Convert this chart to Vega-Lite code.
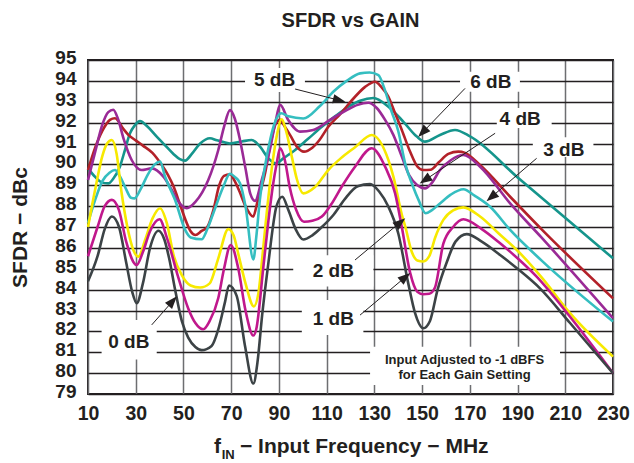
{
  "$schema": "https://vega.github.io/schema/vega-lite/v6.json",
  "width": 525,
  "height": 334,
  "autosize": {"type": "none"},
  "padding": {"left": 88, "top": 60, "right": 21, "bottom": 69},
  "background": "white",
  "title": {"text": "SFDR vs GAIN", "fontSize": 20, "font": "Liberation Sans", "fontWeight": "bold", "color": "#231f20", "anchor": "middle", "offset": 18},
  "config": {
    "view": {"stroke": "#231f20", "strokeWidth": 2},
    "font": "Liberation Sans",
    "axis": {"ticks": false, "tickSize": 0, "domain": false, "labelOverlap": false, "labelSeparation": 0, "labelBound": false, "labelFlush": false, "labelFont": "Liberation Sans", "labelFontWeight": "bold", "labelFontSize": 19.5, "labelColor": "#231f20", "titleFont": "Liberation Sans", "titleFontWeight": "bold", "titleFontSize": 21, "titleColor": "#231f20"},
    "axisX": {"gridColor": "#6d6e71", "gridWidth": 1.5, "gridOpacity": 1, "labelPadding": 10},
    "axisY": {"gridColor": "#231f20", "gridWidth": 1.3, "gridOpacity": 1, "labelFontSize": 19, "labelPadding": 12, "labelOffset": -2.5, "labelOverlap": false, "titleX": -68, "titleY": 167, "titleAngle": -90, "titleBaseline": "middle", "titleAlign": "center"}
  },
  "datasets": {
    "grid": [
      {"v": 79}, {"v": 80}, {"v": 81}, {"v": 82}, {"v": 83}, {"v": 84}, {"v": 85}, {"v": 86}, {"v": 87}, {"v": 88}, {"v": 89}, {"v": 90}, {"v": 91}, {"v": 92}, {"v": 93}, {"v": 94}, {"v": 95}
    ],
    "boxes": [
      {"f": 75.8, "f2": 100.9, "v": 93.47, "v2": 94.62},
      {"f": 165.9, "f2": 191.0, "v": 93.48, "v2": 94.44},
      {"f": 181.3, "f2": 204.3, "v": 91.74, "v2": 92.7},
      {"f": 196.4, "f2": 221.8, "v": 90.35, "v2": 91.3},
      {"f": 96.0, "f2": 129.6, "v": 84.15, "v2": 85.65},
      {"f": 99.6, "f2": 125.4, "v": 81.83, "v2": 83.5},
      {"f": 15.7, "f2": 38.8, "v": 80.65, "v2": 82.55},
      {"f": 128.2, "f2": 207.8, "v": 79.43, "v2": 81.26}
    ],
    "labels": [
      {"f": 88.2, "v": 94.03, "t": "5 dB"},
      {"f": 178.8, "v": 93.96, "t": "6 dB"},
      {"f": 191.1, "v": 92.16, "t": "4 dB"},
      {"f": 209.4, "v": 90.7, "t": "3 dB"},
      {"f": 112.8, "v": 84.9, "t": "2 dB"},
      {"f": 112.8, "v": 82.59, "t": "1 dB"},
      {"f": 27.1, "v": 81.5, "t": "0 dB"}
    ],
    "note": [
      {"f": 167.8, "v": 80.64, "t": "Input Adjusted to -1 dBFS"},
      {"f": 167.8, "v": 79.9, "t": "for Each Gain Setting"}
    ],
    "arrows": [
      {"f": 96.8, "v": 93.61, "f2": 115.3, "v2": 93.07, "ang": 104},
      {"f": 168.0, "v": 93.64, "f2": 150.2, "v2": 91.53, "ang": 224},
      {"f": 180.6, "v": 91.49, "f2": 151.2, "v2": 89.25, "ang": 236},
      {"f": 198.0, "v": 90.29, "f2": 179.0, "v2": 88.43, "ang": 229.5},
      {"f": 121.9, "v": 85.42, "f2": 140.9, "v2": 87.23, "ang": 50},
      {"f": 124.0, "v": 82.78, "f2": 143.0, "v2": 84.6, "ang": 50},
      {"f": 36.7, "v": 82.31, "f2": 45.5, "v2": 83.45, "ang": 41.5}
    ],
    "heads": [
      {"f": 115.3, "v": 93.07, "ang": 104},
      {"f": 150.2, "v": 91.53, "ang": 224},
      {"f": 151.2, "v": 89.25, "ang": 236},
      {"f": 179.0, "v": 88.43, "ang": 229.5},
      {"f": 140.9, "v": 87.23, "ang": 50},
      {"f": 143.0, "v": 84.6, "ang": 50},
      {"f": 45.5, "v": 83.45, "ang": 41.5}
    ],
    "xtitle": [
      {"f": 62.8, "v": 76.15, "t": "f", "s": 21},
      {"f": 66.0, "v": 75.9, "t": "IN", "s": 13},
      {"f": 73.7, "v": 76.15, "t": "− Input Frequency − MHz", "s": 21}
    ],
    "curves": [
      {"gain": "6 dB", "f": 10, "v": 89.81}, {"gain": "6 dB", "f": 13, "v": 89.4}, {"gain": "6 dB", "f": 15.5, "v": 89.15}, {"gain": "6 dB", "f": 18.5, "v": 89.09}, {"gain": "6 dB", "f": 20.5, "v": 89.3}, {"gain": "6 dB", "f": 23.4, "v": 89.9}, {"gain": "6 dB", "f": 25.5, "v": 90.7}, {"gain": "6 dB", "f": 27.6, "v": 91.49}, {"gain": "6 dB", "f": 29.5, "v": 91.85}, {"gain": "6 dB", "f": 31.8, "v": 92.07}, {"gain": "6 dB", "f": 35, "v": 91.8}, {"gain": "6 dB", "f": 38.8, "v": 91.33}, {"gain": "6 dB", "f": 42, "v": 90.95}, {"gain": "6 dB", "f": 45.8, "v": 90.5}, {"gain": "6 dB", "f": 48.5, "v": 90.25}, {"gain": "6 dB", "f": 50.7, "v": 90.18}, {"gain": "6 dB", "f": 53.5, "v": 90.5}, {"gain": "6 dB", "f": 57, "v": 91.0}, {"gain": "6 dB", "f": 61.1, "v": 91.25}, {"gain": "6 dB", "f": 64, "v": 91.15}, {"gain": "6 dB", "f": 66, "v": 91.09}, {"gain": "6 dB", "f": 69.5, "v": 91.0}, {"gain": "6 dB", "f": 74.5, "v": 91.1}, {"gain": "6 dB", "f": 78.6, "v": 91.17}, {"gain": "6 dB", "f": 82.1, "v": 90.85}, {"gain": "6 dB", "f": 85.5, "v": 90.3}, {"gain": "6 dB", "f": 88.7, "v": 90.05}, {"gain": "6 dB", "f": 92, "v": 90.3}, {"gain": "6 dB", "f": 96.8, "v": 90.69}, {"gain": "6 dB", "f": 102, "v": 91.2}, {"gain": "6 dB", "f": 108, "v": 91.8}, {"gain": "6 dB", "f": 113.5, "v": 92.3}, {"gain": "6 dB", "f": 119.1, "v": 92.76}, {"gain": "6 dB", "f": 124, "v": 93.05}, {"gain": "6 dB", "f": 129.6, "v": 93.18}, {"gain": "6 dB", "f": 135.9, "v": 92.76}, {"gain": "6 dB", "f": 142.2, "v": 92.04}, {"gain": "6 dB", "f": 147.8, "v": 91.33}, {"gain": "6 dB", "f": 151.2, "v": 91.09}, {"gain": "6 dB", "f": 157.5, "v": 91.41}, {"gain": "6 dB", "f": 163.8, "v": 91.65}, {"gain": "6 dB", "f": 170.1, "v": 91.34}, {"gain": "6 dB", "f": 189.7, "v": 89.41}, {"gain": "6 dB", "f": 230, "v": 85.5},

      {"gain": "5 dB", "f": 10, "v": 89.73}, {"gain": "5 dB", "f": 13, "v": 90.8}, {"gain": "5 dB", "f": 16, "v": 91.6}, {"gain": "5 dB", "f": 19.2, "v": 92.13}, {"gain": "5 dB", "f": 21.3, "v": 92.21}, {"gain": "5 dB", "f": 24.8, "v": 91.7}, {"gain": "5 dB", "f": 27, "v": 91.4}, {"gain": "5 dB", "f": 30, "v": 91.15}, {"gain": "5 dB", "f": 33, "v": 90.9}, {"gain": "5 dB", "f": 37, "v": 90.55}, {"gain": "5 dB", "f": 40.9, "v": 89.97}, {"gain": "5 dB", "f": 43.5, "v": 89.5}, {"gain": "5 dB", "f": 46, "v": 88.9}, {"gain": "5 dB", "f": 48.5, "v": 88.1}, {"gain": "5 dB", "f": 51, "v": 87.3}, {"gain": "5 dB", "f": 53, "v": 86.8}, {"gain": "5 dB", "f": 55, "v": 86.62}, {"gain": "5 dB", "f": 57.5, "v": 86.8}, {"gain": "5 dB", "f": 60, "v": 87.0}, {"gain": "5 dB", "f": 62.5, "v": 87.8}, {"gain": "5 dB", "f": 65, "v": 89.0}, {"gain": "5 dB", "f": 67, "v": 89.45}, {"gain": "5 dB", "f": 69.5, "v": 89.53}, {"gain": "5 dB", "f": 71.5, "v": 89.2}, {"gain": "5 dB", "f": 73.5, "v": 88.7}, {"gain": "5 dB", "f": 76, "v": 88.0}, {"gain": "5 dB", "f": 79.2, "v": 87.5}, {"gain": "5 dB", "f": 81, "v": 88.2}, {"gain": "5 dB", "f": 84.2, "v": 89.57}, {"gain": "5 dB", "f": 86.5, "v": 91.0}, {"gain": "5 dB", "f": 88.5, "v": 91.9}, {"gain": "5 dB", "f": 90.5, "v": 92.13}, {"gain": "5 dB", "f": 92.5, "v": 91.8}, {"gain": "5 dB", "f": 94.7, "v": 91.4}, {"gain": "5 dB", "f": 97.5, "v": 90.85}, {"gain": "5 dB", "f": 100.5, "v": 90.61}, {"gain": "5 dB", "f": 104, "v": 90.8}, {"gain": "5 dB", "f": 107, "v": 91.17}, {"gain": "5 dB", "f": 110.7, "v": 91.8}, {"gain": "5 dB", "f": 115.6, "v": 92.4}, {"gain": "5 dB", "f": 121.9, "v": 93.24}, {"gain": "5 dB", "f": 126, "v": 93.7}, {"gain": "5 dB", "f": 130.3, "v": 93.96}, {"gain": "5 dB", "f": 133, "v": 93.7}, {"gain": "5 dB", "f": 135.9, "v": 93.24}, {"gain": "5 dB", "f": 138.5, "v": 92.5}, {"gain": "5 dB", "f": 141.5, "v": 91.65}, {"gain": "5 dB", "f": 145, "v": 90.6}, {"gain": "5 dB", "f": 148, "v": 89.9}, {"gain": "5 dB", "f": 150.5, "v": 89.73}, {"gain": "5 dB", "f": 153.5, "v": 89.74}, {"gain": "5 dB", "f": 157, "v": 90.1}, {"gain": "5 dB", "f": 161, "v": 90.5}, {"gain": "5 dB", "f": 165.2, "v": 90.61}, {"gain": "5 dB", "f": 168, "v": 90.55}, {"gain": "5 dB", "f": 174.3, "v": 89.97}, {"gain": "5 dB", "f": 186.9, "v": 88.45}, {"gain": "5 dB", "f": 200, "v": 86.9}, {"gain": "5 dB", "f": 230, "v": 83.58},

      {"gain": "4 dB", "f": 10, "v": 89.25}, {"gain": "4 dB", "f": 13, "v": 90.6}, {"gain": "4 dB", "f": 16, "v": 91.9}, {"gain": "4 dB", "f": 18.5, "v": 92.5}, {"gain": "4 dB", "f": 20.6, "v": 92.62}, {"gain": "4 dB", "f": 22.5, "v": 92.2}, {"gain": "4 dB", "f": 25, "v": 91.2}, {"gain": "4 dB", "f": 28.3, "v": 90.21}, {"gain": "4 dB", "f": 32.5, "v": 89.73}, {"gain": "4 dB", "f": 36.7, "v": 89.81}, {"gain": "4 dB", "f": 41.6, "v": 89.41}, {"gain": "4 dB", "f": 45, "v": 88.8}, {"gain": "4 dB", "f": 48, "v": 88.2}, {"gain": "4 dB", "f": 51.4, "v": 87.9}, {"gain": "4 dB", "f": 55, "v": 88.2}, {"gain": "4 dB", "f": 60.4, "v": 89.25}, {"gain": "4 dB", "f": 64.6, "v": 90.69}, {"gain": "4 dB", "f": 67, "v": 91.8}, {"gain": "4 dB", "f": 69.5, "v": 92.6}, {"gain": "4 dB", "f": 71.5, "v": 92.2}, {"gain": "4 dB", "f": 73.7, "v": 91.17}, {"gain": "4 dB", "f": 76, "v": 89.8}, {"gain": "4 dB", "f": 78, "v": 88.6}, {"gain": "4 dB", "f": 80, "v": 88.25}, {"gain": "4 dB", "f": 82.8, "v": 89.25}, {"gain": "4 dB", "f": 86.2, "v": 90.7}, {"gain": "4 dB", "f": 88.5, "v": 92.0}, {"gain": "4 dB", "f": 90.5, "v": 92.85}, {"gain": "4 dB", "f": 93.9, "v": 92.13}, {"gain": "4 dB", "f": 98.8, "v": 91.57}, {"gain": "4 dB", "f": 104.4, "v": 91.65}, {"gain": "4 dB", "f": 111.4, "v": 92.13}, {"gain": "4 dB", "f": 118.4, "v": 92.6}, {"gain": "4 dB", "f": 123, "v": 92.85}, {"gain": "4 dB", "f": 127.5, "v": 92.95}, {"gain": "4 dB", "f": 131, "v": 92.7}, {"gain": "4 dB", "f": 134.5, "v": 92.13}, {"gain": "4 dB", "f": 138, "v": 91.4}, {"gain": "4 dB", "f": 141.5, "v": 90.37}, {"gain": "4 dB", "f": 144.5, "v": 89.5}, {"gain": "4 dB", "f": 148, "v": 89.0}, {"gain": "4 dB", "f": 151.2, "v": 88.85}, {"gain": "4 dB", "f": 154, "v": 89.1}, {"gain": "4 dB", "f": 157.5, "v": 89.73}, {"gain": "4 dB", "f": 162, "v": 90.2}, {"gain": "4 dB", "f": 167.3, "v": 90.45}, {"gain": "4 dB", "f": 174.3, "v": 89.89}, {"gain": "4 dB", "f": 186.9, "v": 88.13}, {"gain": "4 dB", "f": 200, "v": 86.5}, {"gain": "4 dB", "f": 230, "v": 82.63},

      {"gain": "3 dB", "f": 10, "v": 87.2}, {"gain": "3 dB", "f": 13, "v": 88.3}, {"gain": "3 dB", "f": 16, "v": 89.2}, {"gain": "3 dB", "f": 19, "v": 89.6}, {"gain": "3 dB", "f": 21.3, "v": 89.73}, {"gain": "3 dB", "f": 23.5, "v": 89.4}, {"gain": "3 dB", "f": 26, "v": 88.8}, {"gain": "3 dB", "f": 28, "v": 88.4}, {"gain": "3 dB", "f": 29.5, "v": 88.37}, {"gain": "3 dB", "f": 32, "v": 88.8}, {"gain": "3 dB", "f": 35, "v": 89.5}, {"gain": "3 dB", "f": 38, "v": 90.0}, {"gain": "3 dB", "f": 40.2, "v": 90.13}, {"gain": "3 dB", "f": 42.3, "v": 89.41}, {"gain": "3 dB", "f": 46.5, "v": 88.29}, {"gain": "3 dB", "f": 50.7, "v": 86.86}, {"gain": "3 dB", "f": 53, "v": 86.5}, {"gain": "3 dB", "f": 57.6, "v": 86.41}, {"gain": "3 dB", "f": 60, "v": 86.9}, {"gain": "3 dB", "f": 62.5, "v": 87.66}, {"gain": "3 dB", "f": 66.7, "v": 88.93}, {"gain": "3 dB", "f": 69.5, "v": 89.55}, {"gain": "3 dB", "f": 71.5, "v": 89.4}, {"gain": "3 dB", "f": 73.7, "v": 89.1}, {"gain": "3 dB", "f": 76, "v": 88.0}, {"gain": "3 dB", "f": 79.3, "v": 85.45}, {"gain": "3 dB", "f": 80.5, "v": 86.5}, {"gain": "3 dB", "f": 82, "v": 88.29}, {"gain": "3 dB", "f": 84, "v": 89.8}, {"gain": "3 dB", "f": 86, "v": 91.0}, {"gain": "3 dB", "f": 88, "v": 91.9}, {"gain": "3 dB", "f": 90.9, "v": 92.45}, {"gain": "3 dB", "f": 94, "v": 92.3}, {"gain": "3 dB", "f": 100.2, "v": 92.2}, {"gain": "3 dB", "f": 107.2, "v": 92.8}, {"gain": "3 dB", "f": 113, "v": 93.5}, {"gain": "3 dB", "f": 118.4, "v": 94.0}, {"gain": "3 dB", "f": 124, "v": 94.36}, {"gain": "3 dB", "f": 128, "v": 94.4}, {"gain": "3 dB", "f": 131.7, "v": 94.28}, {"gain": "3 dB", "f": 134, "v": 93.7}, {"gain": "3 dB", "f": 137, "v": 92.6}, {"gain": "3 dB", "f": 140, "v": 91.6}, {"gain": "3 dB", "f": 143, "v": 90.0}, {"gain": "3 dB", "f": 146, "v": 89.0}, {"gain": "3 dB", "f": 148.5, "v": 88.3}, {"gain": "3 dB", "f": 151.5, "v": 87.66}, {"gain": "3 dB", "f": 154, "v": 87.8}, {"gain": "3 dB", "f": 157.5, "v": 88.13}, {"gain": "3 dB", "f": 162, "v": 88.55}, {"gain": "3 dB", "f": 167.3, "v": 88.81}, {"gain": "3 dB", "f": 172, "v": 88.5}, {"gain": "3 dB", "f": 178.5, "v": 87.97}, {"gain": "3 dB", "f": 186.9, "v": 86.86}, {"gain": "3 dB", "f": 200, "v": 85.4}, {"gain": "3 dB", "f": 230, "v": 82.47},

      {"gain": "2 dB", "f": 10, "v": 87.0}, {"gain": "2 dB", "f": 13, "v": 88.8}, {"gain": "2 dB", "f": 16, "v": 90.4}, {"gain": "2 dB", "f": 18, "v": 91.0}, {"gain": "2 dB", "f": 20, "v": 91.17}, {"gain": "2 dB", "f": 22, "v": 90.5}, {"gain": "2 dB", "f": 24, "v": 88.7}, {"gain": "2 dB", "f": 26.5, "v": 87.0}, {"gain": "2 dB", "f": 29, "v": 85.9}, {"gain": "2 dB", "f": 31.1, "v": 85.58}, {"gain": "2 dB", "f": 34, "v": 86.4}, {"gain": "2 dB", "f": 37, "v": 87.4}, {"gain": "2 dB", "f": 40.2, "v": 87.9}, {"gain": "2 dB", "f": 43, "v": 87.2}, {"gain": "2 dB", "f": 46, "v": 85.6}, {"gain": "2 dB", "f": 49.3, "v": 84.7}, {"gain": "2 dB", "f": 53, "v": 84.2}, {"gain": "2 dB", "f": 57, "v": 84.1}, {"gain": "2 dB", "f": 61, "v": 84.3}, {"gain": "2 dB", "f": 64.6, "v": 85.5}, {"gain": "2 dB", "f": 68.8, "v": 86.9}, {"gain": "2 dB", "f": 71, "v": 86.6}, {"gain": "2 dB", "f": 73, "v": 85.7}, {"gain": "2 dB", "f": 76, "v": 84.3}, {"gain": "2 dB", "f": 79.5, "v": 83.2}, {"gain": "2 dB", "f": 81.4, "v": 83.82}, {"gain": "2 dB", "f": 83, "v": 85.5}, {"gain": "2 dB", "f": 85, "v": 87.8}, {"gain": "2 dB", "f": 87, "v": 89.8}, {"gain": "2 dB", "f": 89, "v": 91.3}, {"gain": "2 dB", "f": 91.2, "v": 92.16}, {"gain": "2 dB", "f": 93, "v": 91.6}, {"gain": "2 dB", "f": 95.4, "v": 90.37}, {"gain": "2 dB", "f": 97.5, "v": 89.3}, {"gain": "2 dB", "f": 100.2, "v": 88.61}, {"gain": "2 dB", "f": 105, "v": 88.9}, {"gain": "2 dB", "f": 110.7, "v": 89.73}, {"gain": "2 dB", "f": 116, "v": 90.3}, {"gain": "2 dB", "f": 121.9, "v": 90.82}, {"gain": "2 dB", "f": 128.9, "v": 91.41}, {"gain": "2 dB", "f": 135.9, "v": 90.2}, {"gain": "2 dB", "f": 138, "v": 89.4}, {"gain": "2 dB", "f": 141.5, "v": 87.6}, {"gain": "2 dB", "f": 143, "v": 87.0}, {"gain": "2 dB", "f": 145.7, "v": 85.8}, {"gain": "2 dB", "f": 148, "v": 85.4}, {"gain": "2 dB", "f": 150.5, "v": 85.35}, {"gain": "2 dB", "f": 153, "v": 85.6}, {"gain": "2 dB", "f": 155.5, "v": 86.5}, {"gain": "2 dB", "f": 158.9, "v": 87.34}, {"gain": "2 dB", "f": 163, "v": 87.8}, {"gain": "2 dB", "f": 167.3, "v": 87.94}, {"gain": "2 dB", "f": 174.3, "v": 87.5}, {"gain": "2 dB", "f": 182, "v": 86.7}, {"gain": "2 dB", "f": 189.7, "v": 85.9}, {"gain": "2 dB", "f": 200, "v": 84.6}, {"gain": "2 dB", "f": 212, "v": 82.87}, {"gain": "2 dB", "f": 230, "v": 80.79},

      {"gain": "1 dB", "f": 10, "v": 85.6}, {"gain": "1 dB", "f": 14, "v": 87.0}, {"gain": "1 dB", "f": 17, "v": 88.0}, {"gain": "1 dB", "f": 20, "v": 88.3}, {"gain": "1 dB", "f": 23, "v": 87.8}, {"gain": "1 dB", "f": 26, "v": 86.3}, {"gain": "1 dB", "f": 30.4, "v": 85.18}, {"gain": "1 dB", "f": 33, "v": 85.8}, {"gain": "1 dB", "f": 36, "v": 86.8}, {"gain": "1 dB", "f": 40, "v": 87.37}, {"gain": "1 dB", "f": 43, "v": 86.5}, {"gain": "1 dB", "f": 47.8, "v": 84.6}, {"gain": "1 dB", "f": 52, "v": 83.1}, {"gain": "1 dB", "f": 55, "v": 82.4}, {"gain": "1 dB", "f": 58.3, "v": 82.1}, {"gain": "1 dB", "f": 61, "v": 82.5}, {"gain": "1 dB", "f": 64.6, "v": 83.6}, {"gain": "1 dB", "f": 67, "v": 85.0}, {"gain": "1 dB", "f": 69.8, "v": 86.14}, {"gain": "1 dB", "f": 73, "v": 85.0}, {"gain": "1 dB", "f": 76, "v": 83.0}, {"gain": "1 dB", "f": 79.3, "v": 81.8}, {"gain": "1 dB", "f": 80.5, "v": 82.1}, {"gain": "1 dB", "f": 83.5, "v": 85.1}, {"gain": "1 dB", "f": 85.6, "v": 87.3}, {"gain": "1 dB", "f": 87.5, "v": 89.0}, {"gain": "1 dB", "f": 89, "v": 90.0}, {"gain": "1 dB", "f": 90.5, "v": 90.77}, {"gain": "1 dB", "f": 92.5, "v": 90.2}, {"gain": "1 dB", "f": 94.5, "v": 88.93}, {"gain": "1 dB", "f": 97.3, "v": 87.8}, {"gain": "1 dB", "f": 100.5, "v": 87.25}, {"gain": "1 dB", "f": 104, "v": 87.3}, {"gain": "1 dB", "f": 108, "v": 87.5}, {"gain": "1 dB", "f": 112, "v": 88.1}, {"gain": "1 dB", "f": 116.3, "v": 88.93}, {"gain": "1 dB", "f": 121.9, "v": 89.89}, {"gain": "1 dB", "f": 128.9, "v": 90.77}, {"gain": "1 dB", "f": 134.5, "v": 89.89}, {"gain": "1 dB", "f": 138.7, "v": 88.61}, {"gain": "1 dB", "f": 141.5, "v": 87.0}, {"gain": "1 dB", "f": 145, "v": 84.8}, {"gain": "1 dB", "f": 148, "v": 83.9}, {"gain": "1 dB", "f": 150.5, "v": 83.78}, {"gain": "1 dB", "f": 153, "v": 83.8}, {"gain": "1 dB", "f": 155.4, "v": 84.1}, {"gain": "1 dB", "f": 158.9, "v": 86.2}, {"gain": "1 dB", "f": 163, "v": 87.0}, {"gain": "1 dB", "f": 167.3, "v": 87.37}, {"gain": "1 dB", "f": 175, "v": 86.9}, {"gain": "1 dB", "f": 182.7, "v": 86.22}, {"gain": "1 dB", "f": 190, "v": 85.5}, {"gain": "1 dB", "f": 198, "v": 84.62}, {"gain": "1 dB", "f": 212, "v": 82.7}, {"gain": "1 dB", "f": 230, "v": 80.0},

      {"gain": "0 dB", "f": 10, "v": 84.4}, {"gain": "0 dB", "f": 14, "v": 85.6}, {"gain": "0 dB", "f": 17, "v": 86.9}, {"gain": "0 dB", "f": 20, "v": 87.5}, {"gain": "0 dB", "f": 23, "v": 87.0}, {"gain": "0 dB", "f": 26, "v": 85.3}, {"gain": "0 dB", "f": 28.5, "v": 83.9}, {"gain": "0 dB", "f": 30.4, "v": 83.35}, {"gain": "0 dB", "f": 33, "v": 84.3}, {"gain": "0 dB", "f": 36, "v": 86.0}, {"gain": "0 dB", "f": 39.5, "v": 86.82}, {"gain": "0 dB", "f": 42, "v": 86.4}, {"gain": "0 dB", "f": 44, "v": 85.5}, {"gain": "0 dB", "f": 46.5, "v": 84.0}, {"gain": "0 dB", "f": 49.3, "v": 82.5}, {"gain": "0 dB", "f": 52, "v": 81.7}, {"gain": "0 dB", "f": 55, "v": 81.25}, {"gain": "0 dB", "f": 57.6, "v": 81.1}, {"gain": "0 dB", "f": 61.8, "v": 81.3}, {"gain": "0 dB", "f": 64.6, "v": 82.1}, {"gain": "0 dB", "f": 67.4, "v": 83.4}, {"gain": "0 dB", "f": 69.1, "v": 84.2}, {"gain": "0 dB", "f": 72.3, "v": 83.7}, {"gain": "0 dB", "f": 75.8, "v": 81.3}, {"gain": "0 dB", "f": 79.3, "v": 79.5}, {"gain": "0 dB", "f": 81, "v": 80.5}, {"gain": "0 dB", "f": 83, "v": 82.8}, {"gain": "0 dB", "f": 85.4, "v": 85.1}, {"gain": "0 dB", "f": 89, "v": 88.0}, {"gain": "0 dB", "f": 91.4, "v": 88.45}, {"gain": "0 dB", "f": 94, "v": 87.8}, {"gain": "0 dB", "f": 97, "v": 86.9}, {"gain": "0 dB", "f": 100.2, "v": 86.4}, {"gain": "0 dB", "f": 104, "v": 86.6}, {"gain": "0 dB", "f": 108, "v": 87.0}, {"gain": "0 dB", "f": 113, "v": 87.6}, {"gain": "0 dB", "f": 117.7, "v": 88.35}, {"gain": "0 dB", "f": 123, "v": 88.95}, {"gain": "0 dB", "f": 128.2, "v": 89.06}, {"gain": "0 dB", "f": 132, "v": 88.7}, {"gain": "0 dB", "f": 135.9, "v": 87.97}, {"gain": "0 dB", "f": 140, "v": 86.7}, {"gain": "0 dB", "f": 144.2, "v": 84.3}, {"gain": "0 dB", "f": 147, "v": 82.9}, {"gain": "0 dB", "f": 150.5, "v": 82.15}, {"gain": "0 dB", "f": 153.3, "v": 82.5}, {"gain": "0 dB", "f": 156.5, "v": 84.0}, {"gain": "0 dB", "f": 160.3, "v": 85.3}, {"gain": "0 dB", "f": 164, "v": 86.3}, {"gain": "0 dB", "f": 168.7, "v": 86.66}, {"gain": "0 dB", "f": 175, "v": 86.3}, {"gain": "0 dB", "f": 182.7, "v": 85.66}, {"gain": "0 dB", "f": 190, "v": 85.0}, {"gain": "0 dB", "f": 199.4, "v": 84.06}, {"gain": "0 dB", "f": 212, "v": 82.4}, {"gain": "0 dB", "f": 230, "v": 80.0}
    ]
  },
  "encoding": {
    "x": {"field": "f", "type": "quantitative", "title": null, "scale": {"domain": [10, 230], "nice": false, "zero": false}, "axis": {"values": [10, 30, 50, 70, 90, 110, 130, 150, 170, 190, 210, 230], "grid": true, "labelOverlap": false, "labelFlush": false}},
    "y": {"field": "v", "type": "quantitative", "title": "SFDR − dBc", "scale": {"domain": [79, 95], "nice": false, "zero": false}, "axis": {"values": [79, 80, 81, 82, 83, 84, 85, 86, 87, 88, 89, 90, 91, 92, 93, 94, 95], "tickCount": 17, "grid": true, "labelOverlap": false, "labelFlush": false, "labelSeparation": 0}}
  },
  "layer": [
    {
      "data": {"name": "grid"},
      "mark": {"type": "rule", "color": "#231f20", "strokeWidth": 1.3},
      "encoding": {"x": {"datum": 10}, "x2": {"datum": 230}}
    },
    {
      "data": {"name": "boxes"},
      "mark": {"type": "rect", "fill": "white", "stroke": null},
      "encoding": {"x2": {"field": "f2"}, "y2": {"field": "v2"}}
    },
    {
      "data": {"name": "curves"},
      "mark": {"type": "line", "strokeWidth": 2.6, "interpolate": "monotone"},
      "encoding": {
        "color": {"field": "gain", "type": "nominal", "legend": null, "scale": {"domain": ["0 dB", "1 dB", "2 dB", "3 dB", "4 dB", "5 dB", "6 dB"], "range": ["#3c4346", "#c0188c", "#f7e900", "#35bec0", "#9a2a96", "#b32129", "#15958c"]}}
      }
    },
    {
      "data": {"name": "arrows"},
      "mark": {"type": "rule", "color": "#231f20", "strokeWidth": 1},
      "encoding": {"x2": {"field": "f2"}, "y2": {"field": "v2"}}
    },
    {
      "data": {"name": "heads"},
      "mark": {"type": "point", "shape": "M0,-1L0.75,1L-0.75,1Z", "filled": true, "color": "#231f20", "size": 160, "opacity": 1},
      "encoding": {"angle": {"field": "ang", "type": "quantitative", "scale": null}}
    },
    {
      "data": {"name": "labels"},
      "mark": {"type": "text", "font": "Liberation Sans", "fontWeight": "bold", "fontSize": 19, "color": "#231f20", "align": "center", "baseline": "middle"},
      "encoding": {"text": {"field": "t"}}
    },
    {
      "data": {"name": "note"},
      "mark": {"type": "text", "font": "Liberation Sans", "fontWeight": "bold", "fontSize": 13, "color": "#231f20", "align": "center", "baseline": "middle"},
      "encoding": {"text": {"field": "t"}}
    },
    {
      "data": {"name": "xtitle"},
      "mark": {"type": "text", "font": "Liberation Sans", "fontWeight": "bold", "color": "#231f20", "align": "left", "baseline": "alphabetic"},
      "encoding": {"text": {"field": "t"}, "size": {"field": "s", "type": "quantitative", "scale": null}}
    }
  ]
}
